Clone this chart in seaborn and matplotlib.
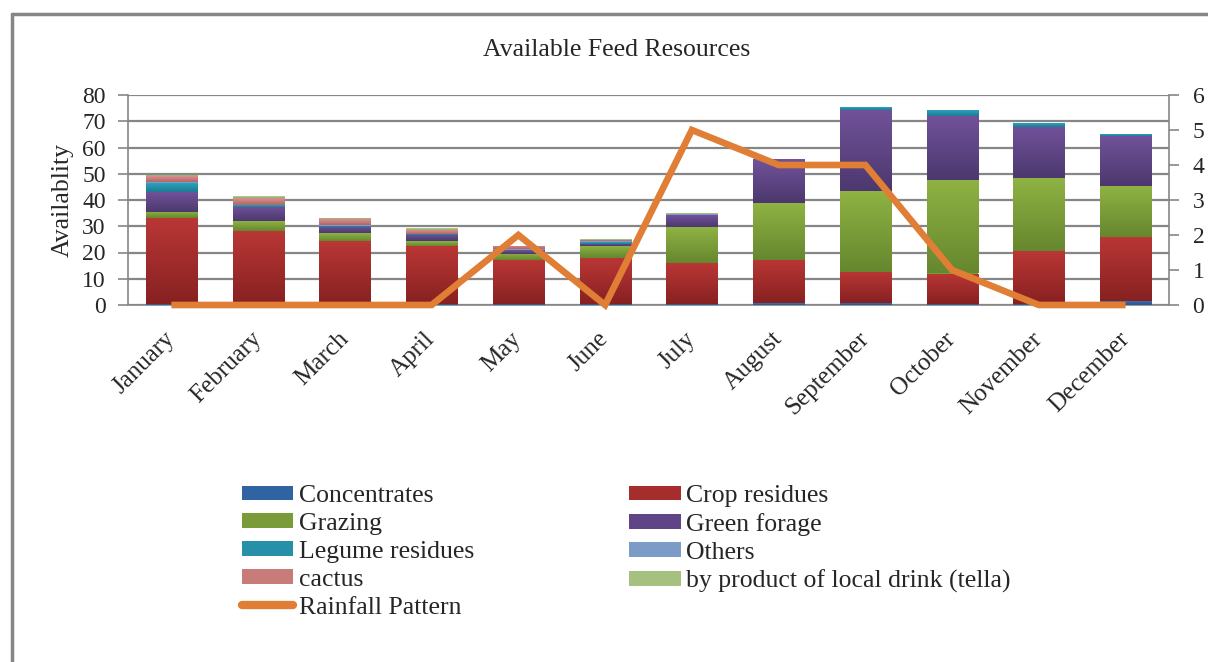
import numpy as np
import matplotlib
matplotlib.use("Agg")
import matplotlib.pyplot as plt
from matplotlib.colors import LinearSegmentedColormap
from matplotlib.lines import Line2D
import seaborn as sns

months = ["January", "February", "March", "April", "May", "June", "July",
          "August", "September", "October", "November", "December"]
concentrates = [0.5, 0.5, 0.5, 0.5, 0.5, 0.5, 0.5, 0.6, 0.8, 0.5, 0.5, 1.6]
crop_residues = [32.7, 27.8, 24.0, 21.9, 16.6, 17.5, 15.6, 16.5, 11.9, 11.5, 20.0, 24.4]
grazing = [2.3, 3.6, 2.9, 1.9, 2.5, 4.6, 13.7, 21.7, 30.6, 35.5, 27.8, 19.2]
green_forage = [7.6, 5.4, 2.3, 2.3, 1.3, 0.8, 4.4, 16.7, 31.1, 24.5, 19.5, 19.2]
legume_residues = [3.4, 0.7, 0.5, 0.4, 0.2, 0.6, 0.2, 0.0, 1.0, 2.1, 1.4, 0.6]
others = [0.3, 0.2, 0.2, 0.2, 0.1, 0.2, 0.1, 0.0, 0.0, 0.0, 0.0, 0.0]
cactus = [2.2, 2.6, 2.2, 1.5, 1.2, 0.6, 0.3, 0.0, 0.0, 0.0, 0.0, 0.0]
tella = [0.4, 0.6, 0.5, 0.6, 0.2, 0.3, 0.2, 0.0, 0.0, 0.0, 0.0, 0.0]
rainfall = [0, 0, 0, 0, 2, 0, 5, 4, 4, 1, 0, 0]

series_names = ["Concentrates", "Crop residues", "Grazing", "Green forage",
                "Legume residues", "Others", "cactus",
                "by product of local drink (tella)"]
series_values = [concentrates, crop_residues, grazing, green_forage,
                 legume_residues, others, cactus, tella]
# (bottom dark, top light, legend mid)
series_colors = [("#2A5590", "#3C72B4", "#3063A2"),
                 ("#872121", "#B93735", "#A52D2C"),
                 ("#66872E", "#8FB243", "#7A9C38"),
                 ("#4C386E", "#71529A", "#5F4585"),
                 ("#1E7A93", "#2CA2BD", "#2590A8"),
                 ("#6A88B5", "#8EAEDA", "#7C9CC8"),
                 ("#AD6866", "#DC8E8C", "#C77C7A"),
                 ("#8EA86E", "#BBD394", "#A6C080")]
rain_color = "#E07E36"
grid_color = "#868686"

sns.set_style("white")
plt.rcParams["font.family"] = ["Liberation Serif", "DejaVu Serif"]

W, H = 1208, 662
fig = plt.figure(figsize=(W / 100, H / 100), dpi=100)
ax = fig.add_axes([128 / W, 1 - 305 / H, (1169 - 128) / W, (305 - 95) / H])

bottom = np.zeros(len(months))
bar_groups = []
for name, vals, cols in zip(series_names, series_values, series_colors):
    before = len(ax.patches)
    sns.barplot(x=months, y=vals, bottom=bottom, color=cols[2], saturation=1,
                width=0.59, ax=ax, label=name, linewidth=0, zorder=3)
    bar_groups.append((ax.patches[before:], cols))
    bottom = bottom + np.array(vals)
if ax.get_legend() is not None:
    ax.get_legend().remove()

ax.set_xlim(-0.5, 11.5)
ax.set_ylim(0, 80)

# Excel-style vertical gradient fill on each stacked segment
grad = np.linspace(0, 1, 64).reshape(-1, 1)
for patches, cols in bar_groups:
    cmap = LinearSegmentedColormap.from_list("g", [cols[0], cols[1]])
    for p in patches:
        x0, y0 = p.get_x(), p.get_y()
        w, h = p.get_width(), p.get_height()
        if h <= 0:
            continue
        im = ax.imshow(grad, extent=[x0, x0 + w, y0, y0 + h], origin="lower",
                       aspect="auto", cmap=cmap, zorder=3.1, interpolation="bilinear")
        im.set_clip_path(p)

ax.set_xlim(-0.5, 11.5)
ax.set_ylim(0, 80)
ax.set_yticks(np.arange(0, 81, 10))
ax.yaxis.grid(True, color=grid_color, linewidth=1.6, zorder=0)
ax.set_axisbelow(True)
ax.tick_params(axis="y", labelsize=17, length=7, width=1.2, color=grid_color,
               direction="out", left=True, pad=9)
ax.tick_params(axis="x", labelsize=18, length=0, pad=22)
for lab in ax.get_xticklabels():
    lab.set_rotation(45)
    lab.set_ha("right")
    lab.set_va("center")
    lab.set_rotation_mode("anchor")
for s in ["left", "bottom", "right"]:
    ax.spines[s].set_color(grid_color)
    ax.spines[s].set_linewidth(1.2)
ax.spines["top"].set_visible(False)
ax.set_xlabel("")
ax.set_ylabel("Availablity", fontsize=18.5, labelpad=6)

ax2 = ax.twinx()
sns.lineplot(x=np.arange(len(months)), y=rainfall, ax=ax2, color=rain_color,
             linewidth=4.8, solid_capstyle="butt", solid_joinstyle="miter",
             label="Rainfall Pattern", legend=False, zorder=5)
for ln in ax2.get_lines():
    ln.set_clip_on(False)
ax2.set_ylim(0, 6)
ax2.set_yticks(np.arange(0, 7, 1))
ax2.tick_params(axis="y", labelsize=17, length=7, width=1.2, color=grid_color,
                direction="out", right=True, pad=10)
for s in ["left", "bottom", "right", "top"]:
    ax2.spines[s].set_visible(False)
ax2.set_ylabel("")
ax2.grid(False)
if ax2.get_legend() is not None:
    ax2.get_legend().remove()
ax.set_zorder(ax2.get_zorder() - 1)
ax.patch.set_visible(False)

fig.text(617 / W, 1 - 50 / H, "Available Feed Resources", ha="center", va="center",
         fontsize=18.5)

# Legend: order so two columns read row-wise like the reference
h1, l1 = ax.get_legend_handles_labels()
hd = dict(zip(l1, h1))
order = ["Concentrates", "Grazing", "Legume residues", "cactus", "Rainfall Pattern",
         "Crop residues", "Green forage", "Others", "by product of local drink (tella)"]
rain_handle = Line2D([], [], color=rain_color, linewidth=6, solid_capstyle="round")
handles = [rain_handle if o == "Rainfall Pattern" else hd[o] for o in order]
leg = fig.legend(handles, order, loc="upper left",
                 bbox_to_anchor=(242 / W, 1 - 485 / H), ncol=2, frameon=False,
                 fontsize=18.5, handlelength=2.0, handleheight=0.5,
                 handletextpad=0.2, columnspacing=6.05, labelspacing=0.23,
                 borderpad=0, borderaxespad=0)

# Outer chart border (cut at right and bottom in the reference)
fig.add_artist(Line2D([12 / W, 12 / W], [0, 1 - 14 / H], transform=fig.transFigure,
                      color=grid_color, linewidth=2.5))
fig.add_artist(Line2D([12 / W, 1], [1 - 14 / H, 1 - 14 / H], transform=fig.transFigure,
                      color=grid_color, linewidth=2.5))

fig.savefig("out.png", dpi=100)
